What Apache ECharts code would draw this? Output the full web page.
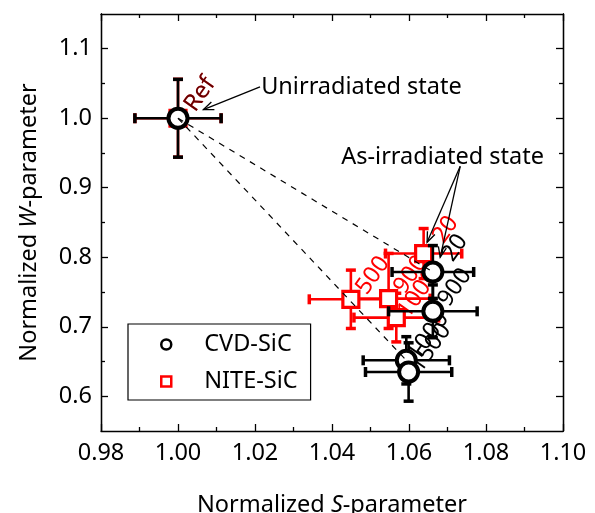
<!DOCTYPE html>
<html>
<head>
<meta charset="utf-8">
<script src="https://cdn.jsdelivr.net/npm/echarts@6/dist/echarts.min.js"></script>
<style>html,body{margin:0;padding:0;background:#fff}#c{width:595px;height:513px}</style>
</head>
<body>
<div id="c"></div>
<script>
// ---- data ----
const cvdLabels = ['Ref', '20', '900', '1000', '1500'];
const cvdS      = [1.0000, 1.0662, 1.0662, 1.0593, 1.0599];
const cvdW      = [1.0000, 0.7788, 0.7222, 0.6517, 0.6349];
const cvdSErr   = [0.0112, 0.0106, 0.0115, 0.0112, 0.0112];
const cvdWErr   = [0.056, 0.038, 0.038, 0.034, 0.042];

const niteLabels   = ['Ref', '20', '500', '900', '1000'];
const niteS        = [1.0000, 1.0638, 1.0449, 1.0547, 1.0567];
const niteW        = [1.0000, 0.8053, 0.7395, 0.7405, 0.7132];
const niteSErr     = [0.0112, 0.0099, 0.0108, 0.0108, 0.0110];
const niteWErrLow  = [0.056, 0.036, 0.042, 0.043, 0.035];
const niteWErrHigh = [0.056, 0.036, 0.042, 0.065, 0.035];

// dashed guide lines: from the reference point to irradiated points
const guideFrom = [[1.0000, 1.0000], [1.0000, 1.0000]];
const guideTo   = [[1.0662, 0.7788], [1.0593, 0.6517]];

// annotations
const noteTexts = ['Unirradiated state', 'As-irradiated state'];
const notePos   = [[1.0216, 1.045], [1.0424, 0.9438]];
const arrowFrom = [[1.0213, 1.045], [1.0733, 0.9309], [1.0733, 0.9309]];
const arrowTo   = [[1.0066, 1.0124], [1.0647, 0.8215], [1.0681, 0.7999]];

const yMajor = [0.6, 0.7, 0.8, 0.9, 1.0, 1.1];
const yMinor = [0.65, 0.75, 0.85, 0.95, 1.05];

const FONT = 'Noto Sans';
const FS = 23.5;

function errData(S, W, se, wl, wh) {
  return S.map((s, i) => [s, W[i], se[i], wl[i], wh[i]]);
}
function errRender(color, lw, capLw) {
  return function (params, api) {
    const x = api.value(0), y = api.value(1), xe = api.value(2), yl = api.value(3), yh = api.value(4);
    const L = api.coord([x - xe, y]), R = api.coord([x + xe, y]);
    const T = api.coord([x, y + yh]), B = api.coord([x, y - yl]);
    const c = 5;
    const st = {stroke: color, lineWidth: lw};
    const cs = {stroke: color, lineWidth: capLw};
    return {type: 'group', children: [
      {type: 'line', shape: {x1: L[0], y1: L[1], x2: R[0], y2: R[1]}, style: st},
      {type: 'line', shape: {x1: T[0], y1: T[1], x2: B[0], y2: B[1]}, style: st},
      {type: 'line', shape: {x1: L[0], y1: L[1] - c, x2: L[0], y2: L[1] + c}, style: cs},
      {type: 'line', shape: {x1: R[0], y1: R[1] - c, x2: R[0], y2: R[1] + c}, style: cs},
      {type: 'line', shape: {x1: T[0] - c, y1: T[1], x2: T[0] + c, y2: T[1]}, style: cs},
      {type: 'line', shape: {x1: B[0] - c, y1: B[1], x2: B[0] + c, y2: B[1]}, style: cs}
    ]};
  };
}
// rotated point labels drawn as text elements next to each point
function labelRender(texts, colorFn) {
  return function (params, api) {
    const p = api.coord([api.value(0), api.value(1)]);
    const i = params.dataIndex;
    return {type: 'text', x: p[0] + 22, y: p[1] - 24, rotation: 55 * Math.PI / 180,
            style: {text: texts[i], fill: colorFn(i), fontSize: FS, fontFamily: FONT,
                    align: 'center', verticalAlign: 'middle'}};
  };
}

const chart = echarts.init(document.getElementById('c'), null, {renderer: 'canvas'});

const axisCommonY = {
  type: 'value', min: 0.55, max: 1.15, splitLine: {show: false},
  axisLine: {show: true, lineStyle: {color: '#000', width: 1.3}}
};

const option = {
  backgroundColor: '#fff',
  animation: false,
  textStyle: {fontFamily: FONT},
  grid: {left: 101, right: 32, top: 14, bottom: 82, containLabel: false, outerBoundsMode: 'none'},
  legend: {
    orient: 'vertical', left: 128, top: 324,
    padding: [7, 13, 5, 32], itemGap: 10,
    itemWidth: 10, itemHeight: 10,
    borderColor: '#000', borderWidth: 1.2, borderRadius: 0,
    textStyle: {fontSize: FS, fontFamily: FONT, color: '#000', lineHeight: 27, padding: [0, 0, 0, 28]},
    data: [
      {name: 'CVD-SiC', icon: 'circle', itemStyle: {color: '#fff', borderColor: '#000', borderWidth: 2.5}},
      {name: 'NITE-SiC', icon: 'rect', itemStyle: {color: '#fff', borderColor: '#ff0000', borderWidth: 2.5}}
    ]
  },
  xAxis: [
    {type: 'value', position: 'bottom', min: 0.98, max: 1.10, interval: 0.02,
     splitLine: {show: false},
     axisLine: {lineStyle: {color: '#000', width: 1.3}},
     axisTick: {inside: true, length: 7, lineStyle: {color: '#000', width: 1.3}},
     minorTick: {show: true, splitNumber: 2, length: 4, lineStyle: {color: '#000', width: 1.3}},
     axisLabel: {fontSize: FS, fontFamily: FONT, color: '#000', margin: 10, formatter: v => v.toFixed(2)},
     name: '{a|Normalized }{b|S}{a|-parameter}', nameLocation: 'middle', nameGap: 62,
     nameTextStyle: {rich: {a: {fontSize: FS, fontFamily: FONT, color: '#000'},
                            b: {fontSize: FS, fontFamily: FONT, color: '#000', fontStyle: 'italic'}}}},
    {type: 'value', position: 'top', min: 0.98, max: 1.10, interval: 0.02,
     splitLine: {show: false},
     axisLine: {lineStyle: {color: '#000', width: 1.3}},
     axisTick: {inside: true, length: 7, lineStyle: {color: '#000', width: 1.3}},
     minorTick: {show: true, splitNumber: 2, length: 4, lineStyle: {color: '#000', width: 1.3}},
     axisLabel: {show: false}}
  ],
  yAxis: [
    Object.assign({}, axisCommonY, {position: 'left',
      axisTick: {inside: true, length: 7, customValues: yMajor, lineStyle: {color: '#000', width: 1.3}},
      axisLabel: {fontSize: FS, fontFamily: FONT, color: '#000', margin: 9, customValues: yMajor, formatter: v => v.toFixed(1)},
      name: '{a|Normalized }{b|W}{a|-parameter}', nameLocation: 'middle', nameGap: 60, nameRotate: 90,
      nameTextStyle: {rich: {a: {fontSize: FS, fontFamily: FONT, color: '#000'},
                             b: {fontSize: FS, fontFamily: FONT, color: '#000', fontStyle: 'italic'}}}}),
    Object.assign({}, axisCommonY, {position: 'left',
      axisTick: {inside: true, length: 4, customValues: yMinor, lineStyle: {color: '#000', width: 1.3}},
      axisLabel: {show: false, customValues: yMinor}}),
    Object.assign({}, axisCommonY, {position: 'right',
      axisTick: {inside: true, length: 7, customValues: yMajor, lineStyle: {color: '#000', width: 1.3}},
      axisLabel: {show: false, customValues: yMajor}}),
    Object.assign({}, axisCommonY, {position: 'right',
      axisTick: {inside: true, length: 4, customValues: yMinor, lineStyle: {color: '#000', width: 1.3}},
      axisLabel: {show: false, customValues: yMinor}})
  ],
  series: [
    {name: 'NITE-SiC err', type: 'custom', renderItem: errRender('#ff0000', 2.6, 3.5),
     data: errData(niteS, niteW, niteSErr, niteWErrLow, niteWErrHigh), z: 2, silent: true},
    {name: 'NITE-SiC', type: 'scatter', symbol: 'rect', symbolSize: 16, z: 3,
     itemStyle: {color: '#fff', borderColor: '#ff0000', borderWidth: 3.2, opacity: 1},
     data: niteS.map((s, i) => [s, niteW[i]])},
    {name: 'NITE-SiC labels', type: 'custom', z: 3, silent: true,
     renderItem: labelRender(niteLabels, () => '#ff0000'),
     data: niteS.map((s, i) => [s, niteW[i]])},
    {name: 'CVD-SiC err', type: 'custom', renderItem: errRender('#000', 2.6, 3.5),
     data: errData(cvdS, cvdW, cvdSErr, cvdWErr, cvdWErr), z: 4, silent: true},
    {name: 'CVD-SiC', type: 'scatter', symbol: 'circle', symbolSize: 19, z: 5,
     itemStyle: {color: '#fff', borderColor: '#000', borderWidth: 4, opacity: 1},
     data: cvdS.map((s, i) => [s, cvdW[i]])},
    {name: 'CVD-SiC labels', type: 'custom', z: 5, silent: true,
     renderItem: labelRender(cvdLabels, i => i === 0 ? 'rgba(0,0,0,0.6)' : '#000'),
     data: cvdS.map((s, i) => [s, cvdW[i]])},
    {name: 'guides', type: 'custom', z: 6, silent: true,
     data: guideFrom.map((p, i) => [p[0], p[1], guideTo[i][0], guideTo[i][1]]),
     renderItem: function (params, api) {
       const a = api.coord([api.value(0), api.value(1)]);
       const b = api.coord([api.value(2), api.value(3)]);
       return {type: 'line', shape: {x1: a[0], y1: a[1], x2: b[0], y2: b[1]},
               style: {stroke: '#000', lineWidth: 1.2, lineDash: [6, 6]}};
     }},
    {name: 'arrows', type: 'custom', z: 7, silent: true,
     data: arrowFrom.map((p, i) => [p[0], p[1], arrowTo[i][0], arrowTo[i][1]]),
     renderItem: function (params, api) {
       const a = api.coord([api.value(0), api.value(1)]);
       const b = api.coord([api.value(2), api.value(3)]);
       const ang = Math.atan2(b[1] - a[1], b[0] - a[0]);
       const h = 11, w = 0.38;
       const p1 = [b[0] - h * Math.cos(ang - w), b[1] - h * Math.sin(ang - w)];
       const p2 = [b[0] - h * Math.cos(ang + w), b[1] - h * Math.sin(ang + w)];
       return {type: 'group', children: [
         {type: 'line', shape: {x1: a[0], y1: a[1], x2: b[0], y2: b[1]}, style: {stroke: '#000', lineWidth: 1.3}},
         {type: 'polyline', shape: {points: [p1, b, p2]}, style: {stroke: '#000', lineWidth: 1.3, fill: null}}
       ]};
     }},
    {name: 'notes', type: 'custom', z: 8, silent: true,
     data: notePos.map((p, i) => [p[0], p[1], i]),
     renderItem: function (params, api) {
       const a = api.coord([api.value(0), api.value(1)]);
       return {type: 'text', x: a[0], y: a[1],
               style: {text: noteTexts[api.value(2)], fill: '#000', fontSize: FS, fontFamily: FONT,
                       align: 'left', verticalAlign: 'middle'}};
     }}
  ]
};
chart.setOption(option);
</script>
</body>
</html>
